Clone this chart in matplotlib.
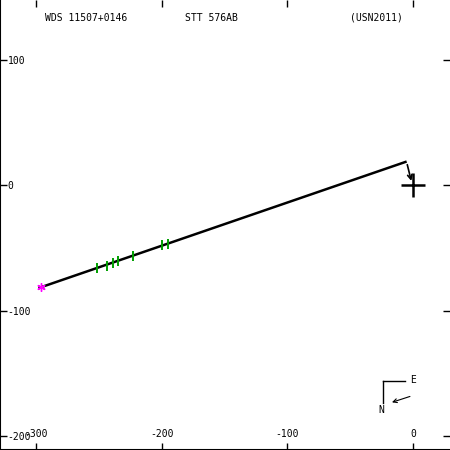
import matplotlib
matplotlib.use('Agg')
import matplotlib.pyplot as plt

plt.rcParams['axes.unicode_minus'] = False

# orbit (linear path) endpoints, data units
orbit_x = [-298, -5]
orbit_y = [-82.0, 19]

# measured positions (green marks)
obs_x = [-251.5, -243.7, -238.4, -234.9, -222.5, -199.5, -195.3]
obs_y = [-66.2, -64.3, -62.2, -60.5, -56.6, -48.0, -46.6]

# first observation (magenta)
first_x = [-296]
first_y = [-81.5]

# direction-of-motion arrow
arrow_from = (-4.5, 16.5)
arrow_to = (-1.3, 3.5)

xticks = [-300, -200, -100, 0]
yticks = [100, 0, -100, -200]

header = ['WDS 11507+0146', 'STT 576AB', '(USN2011)']
header_x = [0.1, 0.411, 0.778]

mono = 'DejaVu Sans Mono'

fig = plt.figure(figsize=[4.5, 4.5], dpi=100)
ax = fig.add_axes([0, 0, 1, 1])

ax.plot(orbit_x, orbit_y, color='black', lw=1.8, solid_capstyle='butt')
ax.plot(obs_x, obs_y, ls='none', marker='|', color='#00a000',
        markersize=7, mew=1.4)
ax.plot(first_x, first_y, ls='none', marker=(6, 2, 0), color='#ff00ff',
        markersize=6, mew=1)
ax.annotate('', xy=arrow_to, xytext=arrow_from,
            arrowprops=dict(arrowstyle='->', color='black', lw=1.2,
                            mutation_scale=8, shrinkA=0, shrinkB=0))
# primary star
ax.plot([0], [0], ls='none', marker='+', color='black', markersize=17, mew=1.8)

ax.set_xlim(-328.6, 29.5)
ax.set_ylim(-211.2, 147.9)

ax.set_xticks(xticks)
ax.set_yticks(yticks)
ax.tick_params(axis='both', direction='in', length=5, width=1,
               top=True, right=True, labelsize=7)
ax.tick_params(axis='x', pad=-11.5)
ax.tick_params(axis='y', pad=-5.5)
for lab in ax.get_xticklabels():
    lab.set_va('center')
    lab.set_family(mono)
for lab in ax.get_yticklabels():
    lab.set_ha('left')
    lab.set_family(mono)
ax.spines['top'].set_visible(False)
ax.spines['right'].set_visible(False)
ax.spines['left'].set_linewidth(1.5)
ax.spines['bottom'].set_linewidth(1.5)

for txt, x in zip(header, header_x):
    ax.text(x, 0.96, txt, transform=ax.transAxes, family=mono, fontsize=7,
            ha='left', va='center')

# compass
tr = ax.transAxes
ax.plot([0.851, 0.9], [0.153, 0.153], color='black', lw=1, transform=tr)
ax.plot([0.851, 0.851], [0.153, 0.105], color='black', lw=1, transform=tr)
ax.text(0.917, 0.156, 'E', transform=tr, family=mono, fontsize=7,
        ha='center', va='center')
ax.text(0.848, 0.089, 'N', transform=tr, family=mono, fontsize=7,
        ha='center', va='center')
ax.annotate('', xy=(0.871, 0.106), xytext=(0.911, 0.119),
            xycoords=tr, textcoords=tr,
            arrowprops=dict(arrowstyle='->', color='black', lw=0.8,
                            mutation_scale=7, shrinkA=0, shrinkB=0))

fig.savefig('out.png', dpi=100)
